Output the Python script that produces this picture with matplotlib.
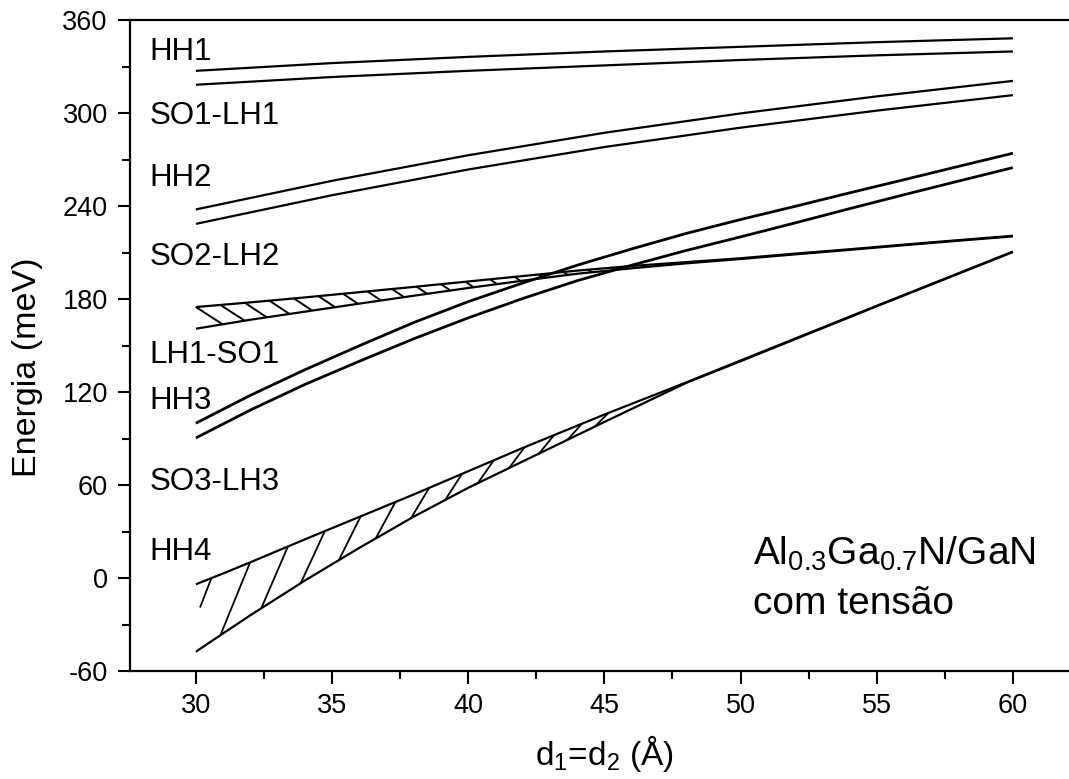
import numpy as np
import matplotlib
matplotlib.use("Agg")
import matplotlib.pyplot as plt
from matplotlib.collections import LineCollection
from matplotlib.ticker import MultipleLocator

plt.rcParams["font.family"] = ["Liberation Sans", "DejaVu Sans"]
plt.rcParams["mathtext.default"] = "regular"
plt.rcParams["axes.unicode_minus"] = False

# --- data (energies in meV, widths in Angstrom) ---
D_COARSE = [30, 35, 40, 45, 50, 55, 60]
HH1_UP = [327.5, 332.5, 336.5, 340, 343, 346, 348.5]
HH1_LO = [318.5, 323.5, 327.5, 331, 334.5, 337.5, 340]
HH2_UP = [238, 256.5, 273, 287.5, 300, 311, 321]
HH2_LO = [228.7, 247.2, 263.8, 278.3, 290.8, 301.8, 311.8]

D_FINE = [30, 32, 34, 36, 38, 40, 42, 44, 46, 48, 50, 52, 54, 56, 58, 60]
LH1_UP = [100, 118, 134.5, 150, 165, 178.5, 190.5, 202, 212.5, 222.5,
          231.5, 240, 248.7, 257.2, 265.8, 274.3]
LH1_LO = [90.5, 108.5, 125, 140, 154.5, 168, 180.5, 192, 202, 211.5,
          220.3, 229.3, 238.5, 247.5, 256.3, 265]
SO2_UP = [175, 178, 181.2, 184.6, 188, 191.5, 195, 198.5, 201.5, 204,
          206.5, 209.5, 212.3, 215.3, 218.2, 221]
SO2_LO = [161, 166.8, 172, 177.2, 182.3, 187.3, 192, 196.5, 200, 203.2,
          206, 209, 211.9, 214.9, 217.8, 220.6]

D_LOW = [30, 31, 32, 34, 36, 38, 40, 42, 45, 48, 50, 55, 60]
HH4_UP = [-4, 3, 10.2, 25, 39.5, 54, 69, 84, 105.6, 126.3, 140.5, 175.8, 210.8]
HH4_LO = [-47.5, -35.7, -24, -1.6, 19.5, 39.7, 58.3, 75.3, 100.8, 126, 140,
          175.5, 210.5]

LABELS = ["HH1", "SO1-LH1", "HH2", "SO2-LH2", "LH1-SO1", "HH3", "SO3-LH3", "HH4"]
LABEL_E = [334.5, 293, 253, 202, 139, 109, 57, 12]


def interp(x, xs, ys):
    # linear, with extrapolation from the first segment
    xs = np.asarray(xs, float)
    ys = np.asarray(ys, float)
    x = np.asarray(x, float)
    out = np.interp(x, xs, ys)
    lo = x < xs[0]
    out[lo] = ys[0] + (x[lo] - xs[0]) * (ys[1] - ys[0]) / (xs[1] - xs[0])
    return out


def clip_left(segs, xmin):
    out = []
    for (x0, y0), (x1, y1) in segs:
        if x1 <= xmin:
            continue
        if x0 < xmin:
            y0 = y0 + (xmin - x0) * (y1 - y0) / (x1 - x0)
            x0 = xmin
        out.append([(x0, y0), (x1, y1)])
    return out


fig = plt.figure(figsize=(10.69, 7.79), dpi=100)
ax = fig.add_axes([0.1216, 0.1386, 0.8784, 0.8351])

lw = 1.6
for xs, ys in [(D_COARSE, HH1_UP), (D_COARSE, HH1_LO),
               (D_COARSE, HH2_UP), (D_COARSE, HH2_LO),
               (D_FINE, SO2_UP), (D_FINE, SO2_LO),
               (D_LOW, HH4_UP), (D_LOW, HH4_LO)]:
    ax.plot(xs, ys, color="black", linewidth=lw, solid_capstyle="butt")
for ys in (LH1_UP, LH1_LO):
    ax.plot(D_FINE, ys, color="black", linewidth=2.0, solid_capstyle="butt")

# hatching of the SO2-LH2 band: upper curve -> lower curve, slanting down-right
xh = np.arange(30.0, 45.5, 0.9)
gap = interp(xh, D_FINE, SO2_UP) - interp(xh, D_FINE, SO2_LO)
x_end = xh + 0.07 * gap
segs = [[(a, b), (c, d)] for a, b, c, d in
        zip(xh, interp(xh, D_FINE, SO2_UP), x_end, interp(x_end, D_FINE, SO2_LO))]
ax.add_collection(LineCollection(segs, colors="black", linewidths=1.4))

# hatching of the bottom band: lower curve -> upper curve, steep "/"
steps = np.linspace(1.55, 1.0, 12)
xl = 29.35 + np.concatenate([[0], np.cumsum(steps)])
gap = interp(xl, D_LOW, HH4_UP) - interp(xl, D_LOW, HH4_LO)
x_end = xl + 0.41 + 0.0174 * gap
segs = [[(a, b), (c, d)] for a, b, c, d in
        zip(xl, interp(xl, D_LOW, HH4_LO), x_end, interp(x_end, D_LOW, HH4_UP))]
ax.add_collection(LineCollection(clip_left(segs, 30.15), colors="black",
                                 linewidths=1.3))

for lab, e in zip(LABELS, LABEL_E):
    ax.text(28.31, e, lab, fontsize=22.5, va="baseline", ha="left")

ax.text(50.46, 8.5, "Al$_{0.3}$Ga$_{0.7}$N/GaN", fontsize=28,
        va="baseline", ha="left")
ax.text(50.46, -23.5, "com tensão", fontsize=28, va="baseline", ha="left")

ax.set_xlim(27.58, 62.06)
ax.set_ylim(-60, 360)
ax.xaxis.set_major_locator(MultipleLocator(5))
ax.xaxis.set_minor_locator(MultipleLocator(2.5))
ax.yaxis.set_major_locator(MultipleLocator(60))
ax.yaxis.set_minor_locator(MultipleLocator(30))
ax.tick_params(which="major", direction="out", length=9, width=1.5,
               labelsize=19.5, pad=7)
ax.tick_params(which="minor", direction="out", length=5.5, width=1.5)
ax.tick_params(top=False, right=False, which="both")

ax.spines["right"].set_visible(False)
for s in ("left", "bottom", "top"):
    ax.spines[s].set_linewidth(1.6)

ax.set_xlabel("d$_1$=d$_2$ (Å)", fontsize=24)
ax.set_ylabel("Energia (meV)", fontsize=24.5)
ax.xaxis.set_label_coords(0.505, -0.095)
ax.yaxis.set_label_coords(-0.093, 0.467)

fig.savefig("out.png", dpi=100)
